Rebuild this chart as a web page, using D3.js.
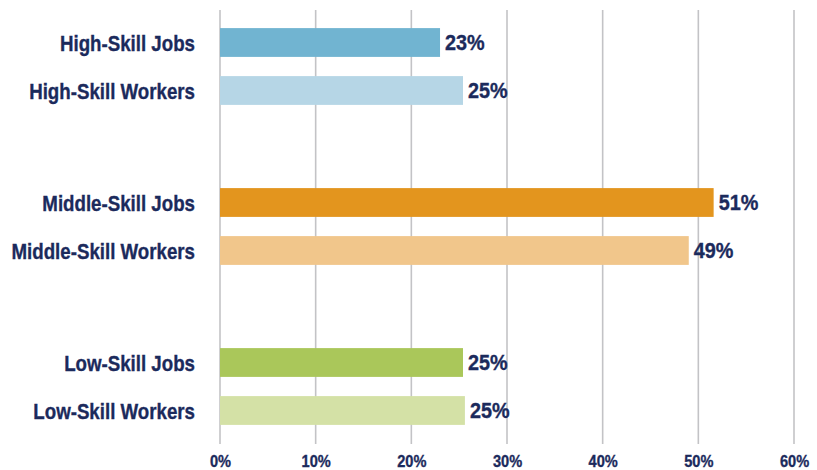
<!DOCTYPE html>
<html><head><meta charset="utf-8">
<script src="https://cdn.jsdelivr.net/npm/d3@7"></script>
<style>
html,body{margin:0;padding:0;background:#fff;}
svg text{font-family:"Liberation Sans",Arial,sans-serif;font-weight:bold;fill:#1b2a5c;stroke:#1b2a5c;stroke-width:0.35px;}
</style></head>
<body><svg id="c" width="817" height="470"></svg>
<script>
const groups = ["High-Skill", "Middle-Skill", "Low-Skill"];
const kinds = ["Jobs", "Workers"];
const values = [
  [23.0, 25.4],
  [51.6, 49.0],
  [25.4, 25.6]
];
const valueLabels = [["23%", "25%"], ["51%", "49%"], ["25%", "25%"]];
const colors = [["#71b4d1", "#b6d6e6"], ["#e3951e", "#f1c68b"], ["#aac75a", "#d4e1a6"]];
const ticks = [0, 10, 20, 30, 40, 50, 60];

const svg = d3.select("#c");
const x = d3.scaleLinear().domain([0, 60]).range([220, 794]);
const yOuter = d3.scaleBand().domain(groups).range([-13.5, 466.5]);
const yInner = d3.scaleBand().domain(kinds).range([32, 128]).paddingInner(0.4).paddingOuter(0.2);

// gridlines
svg.append("g").selectAll("line").data(ticks).join("line")
  .attr("x1", d => x(d)).attr("x2", d => x(d))
  .attr("y1", 10).attr("y2", 444)
  .attr("stroke", "#c3c3c6").attr("stroke-width", 1.6);

// axis labels
const axis = d3.axisBottom(x).tickValues(ticks).tickFormat(d => d + "%").tickSize(0).tickPadding(0);
const ag = svg.append("g").attr("transform", "translate(0,467)").call(axis);
ag.select(".domain").remove();
ag.attr("font-family", null).attr("font-size", null);
ag.selectAll("text").attr("font-size", 17).attr("dy", 0).attr("y", 0)
  .attr("transform", "scale(0.86,1)");

const rows = [];
groups.forEach((g, gi) => kinds.forEach((k, ki) => rows.push({g, k, gi, ki, v: values[gi][ki], lab: valueLabels[gi][ki], col: colors[gi][ki]})));
const yPos = d => yOuter(d.g) + yInner(d.k);

svg.append("g").selectAll("rect").data(rows).join("rect")
  .attr("x", x(0)).attr("y", yPos)
  .attr("width", d => x(d.v) - x(0)).attr("height", yInner.bandwidth())
  .attr("fill", d => d.col);

svg.append("g").selectAll("text").data(rows).join("text")
  .attr("transform", d => `translate(${x(d.v) + 5},${yPos(d) + yInner.bandwidth() / 2}) scale(0.9,1)`)
  .attr("dy", "0.36em").attr("font-size", 22).text(d => d.lab);

svg.append("g").selectAll("text").data(rows).join("text")
  .attr("transform", d => `translate(195,${yPos(d) + yInner.bandwidth() / 2 + 1}) scale(0.85,1)`)
  .attr("dy", "0.36em").attr("text-anchor", "end").attr("font-size", 22)
  .text(d => d.g + " " + d.k);
</script></body></html>
